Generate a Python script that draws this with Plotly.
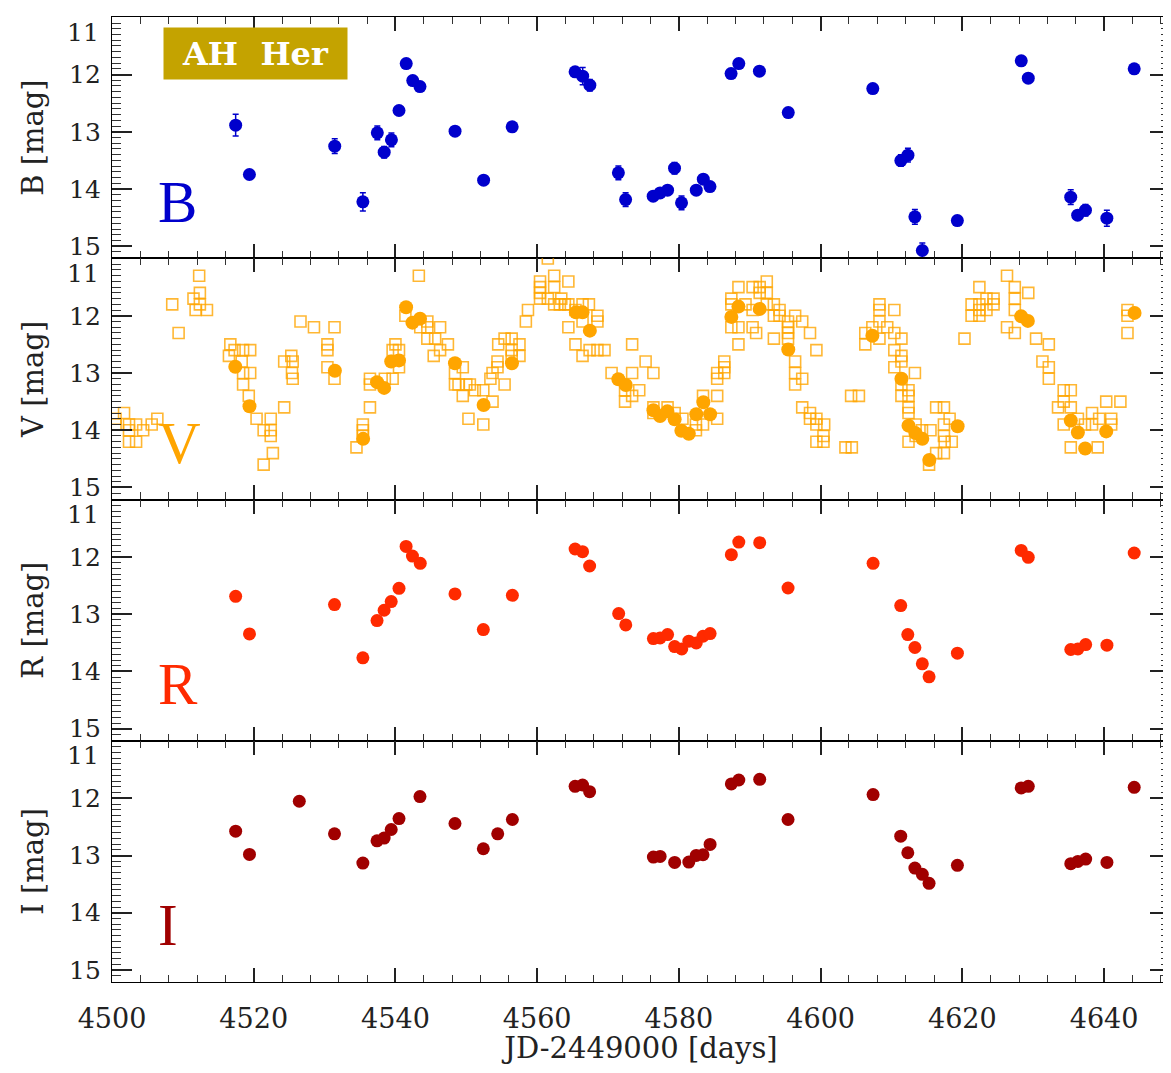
import plotly.graph_objects as go

# ---------------- data ----------------
# B band (CCD), with errors
t_B = [4517.45, 4519.39, 4531.43, 4535.40, 4537.44, 4538.41, 4539.43, 4540.50, 4541.52, 4542.44,
       4543.46, 4548.41, 4552.44, 4556.47, 4565.35, 4566.42, 4567.43, 4571.46, 4572.48, 4576.37,
       4577.35, 4578.40, 4579.38, 4580.37, 4582.45, 4583.44, 4584.38, 4587.36, 4588.45, 4591.36,
       4595.43, 4607.36, 4611.32, 4612.32, 4613.30, 4614.35, 4619.29, 4628.31, 4629.30, 4635.29,
       4636.27, 4637.37, 4640.39, 4644.25]
B_mag = [12.885, 13.747, 13.252, 14.225, 13.019, 13.357, 13.141, 12.629, 11.808, 12.105,
         12.210, 12.990, 13.846, 12.914, 11.953, 12.029, 12.186, 13.718, 14.184, 14.126,
         14.068, 14.021, 13.637, 14.242, 14.021, 13.829, 13.957, 11.983, 11.808, 11.942,
         12.664, 12.245, 13.503, 13.409, 14.487, 15.075, 14.551, 11.761, 12.064, 14.143,
         14.458, 14.370, 14.510, 11.901]
B_err = [0.19, 0.05, 0.13, 0.16, 0.12, 0.10, 0.12, 0.05, 0.05, 0.05,
         0.05, 0.05, 0.05, 0.05, 0.05, 0.15, 0.10, 0.12, 0.12, 0.05,
         0.05, 0.05, 0.10, 0.12, 0.05, 0.05, 0.05, 0.05, 0.05, 0.05,
         0.05, 0.05, 0.10, 0.12, 0.13, 0.13, 0.05, 0.05, 0.05, 0.13,
         0.05, 0.10, 0.14, 0.05]

# V band (CCD, filled circles)
t_Vccd = [4517.40, 4519.40, 4531.45, 4535.44, 4537.40, 4538.40, 4539.40, 4540.50, 4541.50, 4542.40,
          4543.47, 4548.40, 4552.44, 4556.44, 4565.46, 4566.40, 4567.43, 4571.46, 4572.50, 4576.40,
          4577.34, 4578.37, 4579.40, 4580.35, 4581.40, 4582.45, 4583.45, 4584.40, 4587.40, 4588.40,
          4591.40, 4595.43, 4607.30, 4611.40, 4612.40, 4613.37, 4614.35, 4615.34, 4619.33, 4628.30,
          4629.24, 4635.30, 4636.30, 4637.33, 4640.30, 4644.30]
V_ccd = [12.89, 13.58, 12.96, 14.15, 13.16, 13.26, 12.80, 12.78, 11.85, 12.12,
         12.05, 12.83, 13.56, 12.83, 11.94, 11.94, 12.26, 13.11, 13.21, 13.65,
         13.75, 13.67, 13.81, 14.01, 14.06, 13.72, 13.51, 13.72, 12.02, 11.84,
         11.88, 12.59, 12.35, 13.10, 13.92, 14.05, 14.15, 14.52, 13.93, 12.01,
         12.09, 13.83, 14.04, 14.32, 14.02, 11.95]

# V band (visual estimates, open squares)
t_Vvis = [4500.5, 4500.5, 4501.7, 4502.4, 4502.4, 4502.4, 4503.4, 4503.4, 4504.4, 4505.6, 4506.4,
          4508.5, 4509.4, 4511.5, 4511.8, 4512.3, 4512.4, 4512.4, 4513.4,
          4516.5, 4516.7, 4517.3, 4518.5, 4519.5, 4518.3, 4518.5, 4519.5, 4518.5, 4519.3,
          4520.4, 4521.4, 4522.4, 4522.4, 4522.4, 4521.4, 4522.7,
          4524.3, 4524.3, 4525.3, 4525.5, 4525.4, 4525.5,
          4526.6, 4528.5, 4530.4, 4530.4, 4530.4, 4531.4, 4531.4,
          4534.5, 4535.4, 4535.4, 4535.4, 4536.4, 4536.4, 4536.4,
          4538.5, 4539.6, 4539.6, 4540.0, 4540.5, 4540.5,
          4541.4, 4543.3, 4543.5, 4544.5, 4544.5, 4544.5, 4545.6, 4546.3, 4547.4, 4545.4, 4546.3,
          4548.4, 4548.4, 4549.5, 4548.9, 4550.0, 4550.5, 4549.5, 4551.2, 4550.3,
          4552.4, 4553.7, 4552.4, 4553.4, 4553.7, 4554.4, 4554.4, 4555.4, 4554.5, 4555.4, 4556.4,
          4556.4, 4556.4, 4557.5, 4557.5,
          4558.4, 4558.7, 4560.4, 4560.4, 4560.4, 4560.4, 4561.5, 4562.4, 4562.4, 4561.5, 4562.4,
          4563.4, 4564.4, 4563.2, 4563.9, 4564.4, 4565.4, 4566.4, 4567.3,
          4564.4, 4565.4, 4566.4, 4566.4, 4567.4, 4568.5, 4569.5, 4568.5, 4568.5,
          4570.5, 4573.4, 4573.4, 4574.4, 4572.4, 4572.4, 4573.4, 4575.3, 4576.4,
          4576.4, 4576.4, 4578.4, 4579.4, 4580.5, 4582.4, 4582.4, 4583.4, 4583.4, 4585.4, 4585.4,
          4585.4, 4585.4, 4586.4, 4586.4, 4586.4,
          4587.4, 4587.4, 4587.4, 4588.4, 4588.4, 4588.4, 4589.4, 4590.4, 4590.4, 4590.4, 4590.9,
          4591.4, 4591.4, 4592.4, 4592.4, 4592.4, 4593.4, 4593.4, 4594.2, 4594.2, 4593.4,
          4595.4, 4595.4, 4595.4, 4595.4, 4596.4, 4596.4, 4596.4, 4596.4, 4597.4, 4597.4, 4598.5,
          4599.4, 4597.4, 4598.5, 4598.5, 4599.4, 4599.4, 4600.5, 4599.4, 4600.4, 4600.4,
          4603.5, 4604.4, 4604.3, 4605.4, 4606.3, 4606.3, 4607.3, 4608.3, 4608.3, 4608.3, 4608.3,
          4609.4, 4610.4, 4610.4, 4610.4, 4610.4, 4611.4, 4611.4, 4611.4, 4611.4, 4611.4, 4613.3,
          4612.4, 4612.4, 4612.4, 4612.4, 4613.4, 4612.4, 4613.4, 4614.3, 4615.5, 4615.3, 4616.3,
          4617.4, 4616.3, 4617.4, 4617.4, 4617.4, 4617.5, 4618.5, 4618.2,
          4620.3, 4621.3, 4621.3, 4622.4, 4622.4, 4622.4, 4622.4, 4623.4, 4623.4, 4624.4, 4624.4,
          4626.3, 4627.4, 4627.4, 4627.4, 4626.3, 4627.4, 4629.3, 4630.4, 4632.2, 4631.3, 4632.2,
          4632.2, 4634.3, 4635.3, 4633.5, 4634.3, 4635.3, 4634.3, 4636.3, 4635.3, 4639.1, 4637.3,
          4638.3, 4638.3, 4639.3, 4640.3, 4641.0, 4641.0, 4642.3, 4643.3, 4643.3, 4643.3]
V_vis = [13.8, 13.9, 13.7, 13.9, 14.0, 14.2, 13.9, 14.2, 14.0, 13.9, 13.8,
         11.8, 12.3, 11.7, 11.9, 11.3, 11.6, 11.8, 11.9,
         12.7, 12.5, 12.6, 12.6, 12.6, 12.8, 13.0, 13.0, 13.2, 13.4,
         13.8, 14.0, 13.8, 14.0, 14.1, 14.6, 14.4,
         13.6, 12.8, 12.7, 12.8, 13.0, 13.1,
         12.1, 12.2, 12.5, 12.6, 12.9, 12.2, 13.1,
         14.3, 13.9, 14.0, 14.1, 13.1, 13.2, 13.6,
         13.1, 13.1, 12.6, 12.5, 12.6, 12.9,
         12.0, 11.3, 12.2, 12.1, 12.2, 12.4, 12.4, 12.2, 12.5, 12.7, 12.6,
         13.0, 13.2, 12.9, 13.2, 13.2, 13.2, 13.4, 13.3, 13.8,
         13.3, 13.5, 13.9, 13.1, 13.0, 12.8, 12.9, 13.2, 12.5, 12.4, 12.4,
         12.6, 12.7, 12.5, 12.7,
         12.1, 11.9, 11.4, 11.5, 11.6, 11.7, 11.0, 11.3, 11.5, 11.7, 11.8,
         11.7, 11.4, 11.8, 11.8, 11.8, 11.9, 11.8, 11.8,
         12.2, 12.5, 12.1, 12.7, 12.6, 12.6, 12.6, 12.0, 12.1,
         13.0, 12.5, 13.0, 13.3, 13.5, 13.3, 13.4, 12.8, 13.0,
         13.6, 13.7, 13.6, 13.7, 13.8, 13.9, 14.0, 13.4, 13.9, 13.4, 13.8,
         13.0, 13.1, 12.8, 12.9, 13.0,
         11.7, 11.8, 12.2, 11.5, 12.2, 12.5, 11.8, 11.5, 11.9, 12.2, 12.3,
         11.5, 11.6, 11.4, 11.6, 11.8, 11.8, 12.0, 11.9, 12.0, 12.4,
         12.1, 12.2, 12.3, 12.4, 12.0, 12.8, 13.0, 13.2, 12.1, 13.1, 12.3,
         12.6, 13.6, 13.7, 13.8, 13.8, 13.9, 13.9, 14.2, 14.1, 14.2,
         14.3, 14.3, 13.4, 13.4, 12.3, 12.5, 12.2, 11.8, 11.9, 12.1, 12.4,
         12.2, 11.9, 12.3, 12.6, 12.9, 12.4, 12.7, 12.8, 13.2, 13.4, 13.0,
         13.3, 13.4, 13.6, 13.7, 13.9, 14.2, 14.1, 14.0, 14.0, 14.6, 13.6,
         13.6, 14.4, 14.4, 13.9, 14.1, 14.2, 14.2, 13.8,
         12.4, 11.8, 12.0, 11.5, 11.8, 11.9, 12.0, 11.7, 11.9, 11.7, 11.8,
         11.3, 11.5, 11.7, 11.9, 12.2, 12.3, 11.6, 12.4, 12.5, 12.8, 12.9,
         13.1, 13.3, 13.3, 13.6, 13.5, 13.6, 13.9, 13.8, 14.3, 14.3, 13.9,
         13.9, 13.7, 13.8, 13.5, 13.8, 13.9, 13.5, 12.0, 12.3, 11.9]

# R band
t_R = [4517.45, 4519.40, 4531.40, 4535.40, 4537.40, 4538.40, 4539.40, 4540.50, 4541.50, 4542.40,
       4543.50, 4548.40, 4552.40, 4556.50, 4565.35, 4566.40, 4567.40, 4571.50, 4572.50, 4576.40,
       4577.35, 4578.40, 4579.40, 4580.40, 4581.40, 4582.45, 4583.40, 4584.40, 4587.40, 4588.45,
       4591.40, 4595.40, 4607.40, 4611.30, 4612.30, 4613.30, 4614.35, 4615.30, 4619.30, 4628.30,
       4629.30, 4635.30, 4636.30, 4637.40, 4640.40, 4644.25]
R_mag = [12.686, 13.343, 12.831, 13.762, 13.110, 12.930, 12.779, 12.547, 11.814, 11.983,
         12.110, 12.645, 13.267, 12.669, 11.860, 11.907, 12.157, 12.988, 13.186, 13.424,
         13.413, 13.355, 13.564, 13.605, 13.471, 13.500, 13.384, 13.337, 11.959, 11.738,
         11.750, 12.541, 12.110, 12.849, 13.355, 13.581, 13.866, 14.093, 13.680, 11.884,
         12.006, 13.616, 13.605, 13.529, 13.541, 11.930]

# I band
t_I = [4517.45, 4519.40, 4526.43, 4531.40, 4535.40, 4537.40, 4538.40, 4539.40, 4540.50, 4543.46,
       4548.40, 4552.40, 4554.43, 4556.50, 4565.35, 4566.40, 4567.40, 4576.40, 4577.35, 4579.40,
       4581.40, 4582.45, 4583.40, 4584.40, 4587.40, 4588.45, 4591.40, 4595.40, 4607.40, 4611.30,
       4612.30, 4613.30, 4614.35, 4615.30, 4619.30, 4628.30, 4629.30, 4635.30, 4636.30, 4637.40,
       4640.40, 4644.25]
I_mag = [12.575, 12.981, 12.052, 12.621, 13.132, 12.743, 12.696, 12.546, 12.354, 11.971,
         12.441, 12.882, 12.621, 12.371, 11.791, 11.768, 11.884, 13.027, 13.016, 13.120,
         13.114, 12.998, 12.987, 12.807, 11.750, 11.681, 11.669, 12.371, 11.936, 12.662,
         12.952, 13.219, 13.329, 13.486, 13.172, 11.820, 11.791, 13.143, 13.103, 13.062,
         13.120, 11.808]

band_names = ["B", "V", "R", "I"]
band_colors = ["#0000CC", "#FFA500", "#FF2A00", "#A00000"]
x_ticks = [4500, 4520, 4540, 4560, 4580, 4600, 4620, 4640]
y_ticks = [11, 12, 13, 14, 15]
y_ticktext = ["", "12", "13", "14", "15"]   # the "11" label sits lower, drawn separately

# ---------------- figure ----------------
fig = go.Figure()

fig.add_trace(go.Scatter(
    x=t_B, y=B_mag, mode="markers", xaxis="x", yaxis="y",
    marker=dict(symbol="circle", size=13, color=band_colors[0]),
    error_y=dict(type="data", array=B_err, color=band_colors[0], thickness=1.5, width=3),
    showlegend=False))

fig.add_trace(go.Scatter(
    x=t_Vvis, y=V_vis, mode="markers", xaxis="x2", yaxis="y2",
    marker=dict(symbol="square-open", size=11, color="rgba(255,165,0,0.8)",
                line=dict(width=1.6, color="rgba(255,165,0,0.8)")),
    showlegend=False))
fig.add_trace(go.Scatter(
    x=t_Vccd, y=V_ccd, mode="markers", xaxis="x2", yaxis="y2",
    marker=dict(symbol="circle", size=14, color=band_colors[1]),
    showlegend=False))

fig.add_trace(go.Scatter(
    x=t_R, y=R_mag, mode="markers", xaxis="x3", yaxis="y3",
    marker=dict(symbol="circle", size=13, color=band_colors[2]),
    showlegend=False))

fig.add_trace(go.Scatter(
    x=t_I, y=I_mag, mode="markers", xaxis="x4", yaxis="y4",
    marker=dict(symbol="circle", size=13, color=band_colors[3]),
    showlegend=False))

xtick_font = dict(family="DejaVu Serif", size=27, color="#222")
ytick_font = dict(family="DejaVu Serif", size=25, color="#222")
title_font = dict(family="DejaVu Serif", size=29, color="#222")

# The page body has an 8 px margin, so the figure is sized/padded to land
# its plot area where the original's is.
domains = [[0.75, 1.0], [0.5, 0.75], [0.25, 0.5], [0.0, 0.25]]
layout = dict(
    width=1163, height=1057,
    margin=dict(l=104, r=1, t=9, b=83, autoexpand=False),
    plot_bgcolor="white", paper_bgcolor="white",
)
for i in range(4):
    sfx = "" if i == 0 else str(i + 1)
    xa = dict(
        range=[4500, 4649.3], tickmode="array", tickvals=x_ticks, ticks="inside", ticklen=14,
        tickwidth=1.6, tickcolor="#222", showline=True, linewidth=1.4, linecolor="black",
        mirror="ticks", showgrid=False, zeroline=False, anchor="y" + sfx, automargin=False,
        minor=dict(ticks="inside", ticklen=7, tickwidth=1.3, tickcolor="#333", tick0=4500, dtick=4,
                   showgrid=False),
        showticklabels=(i == 3), tickfont=xtick_font, ticklabelstandoff=12,
    )
    if i < 3:
        xa["matches"] = "x4"
    else:
        xa["title"] = dict(text="JD-2449000 [days]", font=title_font, standoff=18)
    ya = dict(
        domain=domains[i], range=[15.21, 10.995], tickmode="array", tickvals=y_ticks,
        ticktext=y_ticktext, ticks="inside", ticklen=20,
        tickwidth=1.6, tickcolor="#222", showline=True, linewidth=1.4, linecolor="black",
        mirror="ticks", showgrid=False, zeroline=False, anchor="x" + sfx, automargin=False,
        minor=dict(ticks="inside", ticklen=9, tickwidth=1.3, tickcolor="#333", tick0=11, dtick=0.1,
                   showgrid=False),
        tickfont=ytick_font, ticklabelstandoff=5,
        title=dict(text=band_names[i] + " [mag]", font=title_font, standoff=16),
    )
    layout["xaxis" + sfx] = xa
    layout["yaxis" + sfx] = ya

annotations = [dict(
    text="AH\u00a0 Her", xref="paper", yref="paper", x=0.1361, y=0.9623,
    xanchor="center", yanchor="middle", showarrow=False, width=181, height=49,
    bgcolor="#C4A300", font=dict(family="DejaVu Serif", size=32, color="white", weight="bold"),
)]
for i in range(4):
    sfx = "" if i == 0 else str(i + 1)
    # big band letter
    annotations.append(dict(
        text=band_names[i], xref="paper", yref="y" + sfx + " domain",
        x=0.042, y=0.235, xanchor="left", yanchor="middle", showarrow=False,
        font=dict(family="Liberation Serif", size=59, color=band_colors[i]),
    ))
    # the "11" tick label, placed a little below its tick as in the original
    annotations.append(dict(
        text=str(y_ticks[0]), xref="paper", yref="y" + sfx,
        x=-0.010, y=11.26, xanchor="right", yanchor="middle", showarrow=False,
        font=ytick_font,
    ))
layout["annotations"] = annotations

fig.update_layout(**layout)
fig.write_html("out.html")
